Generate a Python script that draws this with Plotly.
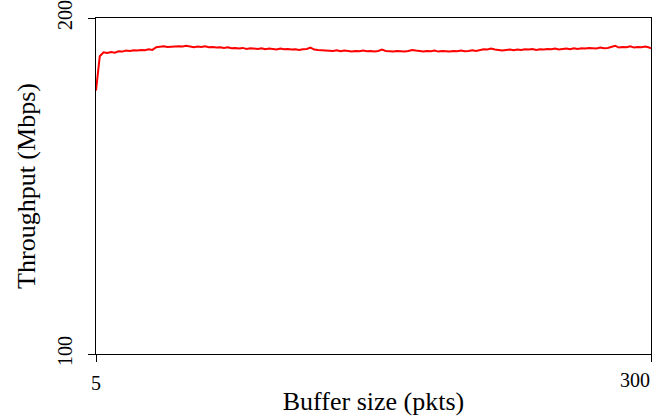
import plotly.graph_objects as go

buffer_pkts = [5] + list(range(7, 300, 2)) + [300]
throughput = [
    178.4, 188.6, 189.8, 189.6, 189.9, 189.7, 190.1, 190.0, 190.3, 190.2,
    190.4, 190.3, 190.5, 190.4, 190.7, 190.5, 191.3, 191.4, 191.6, 191.4,
    191.5, 191.4, 191.6, 191.5, 191.7, 191.5, 191.3, 191.5, 191.4, 191.6,
    191.3, 191.4, 191.2, 191.3, 191.1, 191.3, 191.0, 191.1, 190.9, 191.1,
    190.8, 191.0, 190.9, 190.8, 191.0, 190.7, 190.9, 190.8, 190.6, 190.9,
    190.7, 190.8, 190.6, 190.7, 190.5, 190.7, 190.8, 191.2, 190.6, 190.5,
    190.4, 190.3, 190.4, 190.2, 190.4, 190.1, 190.3, 190.2, 190.0, 190.2,
    190.1, 190.3, 190.1, 190.2, 190.0, 190.2, 190.6, 190.2, 190.1, 190.0,
    190.2, 190.1, 190.0, 190.2, 190.5, 190.3, 190.2, 190.0, 190.2, 190.1,
    190.3, 190.0, 190.2, 190.1, 190.0, 190.2, 190.1, 190.3, 190.1, 190.2,
    190.4, 190.2, 190.5, 190.7, 190.6, 190.9, 190.6, 190.5, 190.3, 190.5,
    190.6, 190.4, 190.6, 190.5, 190.7, 190.6, 190.8, 190.5, 190.7, 190.6,
    190.8, 190.7, 190.9, 190.6, 190.8, 190.9, 190.7, 191.0, 190.8, 191.0,
    190.9, 191.1, 191.0, 190.9, 191.2, 191.0, 191.1, 191.4, 191.7, 191.2,
    191.4, 191.3, 191.6, 191.2, 191.4, 191.3, 191.5, 191.2, 191.0,
]
x_ticks = [5, 300]
x_tick_labels = ["5", "300"]
y_ticks = [100, 200]
y_tick_labels = ["100", "200"]

FONT = "Liberation Serif, Times New Roman, serif"

fig = go.Figure(
    go.Scatter(
        x=buffer_pkts, y=throughput, mode="lines",
        line=dict(color="#ff0000", width=2), showlegend=False,
    )
)

fig.update_layout(
    width=663, height=416,
    margin=dict(l=96, r=12, t=18, b=62),
    paper_bgcolor="white", plot_bgcolor="white",
    font=dict(family=FONT, color="black"),
)
# the last x label is right-aligned to its tick (as in the reference), so it
# is drawn as an annotation anchored at that tick; the others are tick labels
x_text = x_tick_labels[:-1] + [""]
fig.update_xaxes(
    range=[5, 300], tickvals=x_ticks, ticktext=x_text, automargin=False,
    ticks="outside", ticklen=7, tickwidth=1, tickcolor="black",
    showline=True, linecolor="black", linewidth=1, mirror=True,
    showgrid=False, zeroline=False, tickfont=dict(size=20, family=FONT),
    ticklabelstandoff=4,
    title=dict(text="Buffer size (pkts)", font=dict(size=26, family=FONT), standoff=0),
)
fig.add_annotation(
    x=x_ticks[-1], xref="x", y=0, yref="paper",
    text=x_tick_labels[-1], showarrow=False,
    xanchor="right", yanchor="top", yshift=-13, xshift=1,
    font=dict(size=20, family=FONT, color="black"),
)
fig.update_yaxes(
    range=[100, 200], tickvals=y_ticks, ticktext=y_tick_labels, automargin=False,
    ticks="outside", ticklen=7, tickwidth=1, tickcolor="black",
    showline=True, linecolor="black", linewidth=1, mirror=True,
    showgrid=False, zeroline=False, tickfont=dict(size=20, family=FONT), tickangle=-90,
    ticklabelstandoff=8, ticklabeloverflow="allow",
    title=dict(text="Throughput (Mbps)", font=dict(size=26, family=FONT), standoff=10),
)

fig.write_html(
    "out.html",
    config={"displayModeBar": False},
    post_script="document.body.style.margin='0';",
)
